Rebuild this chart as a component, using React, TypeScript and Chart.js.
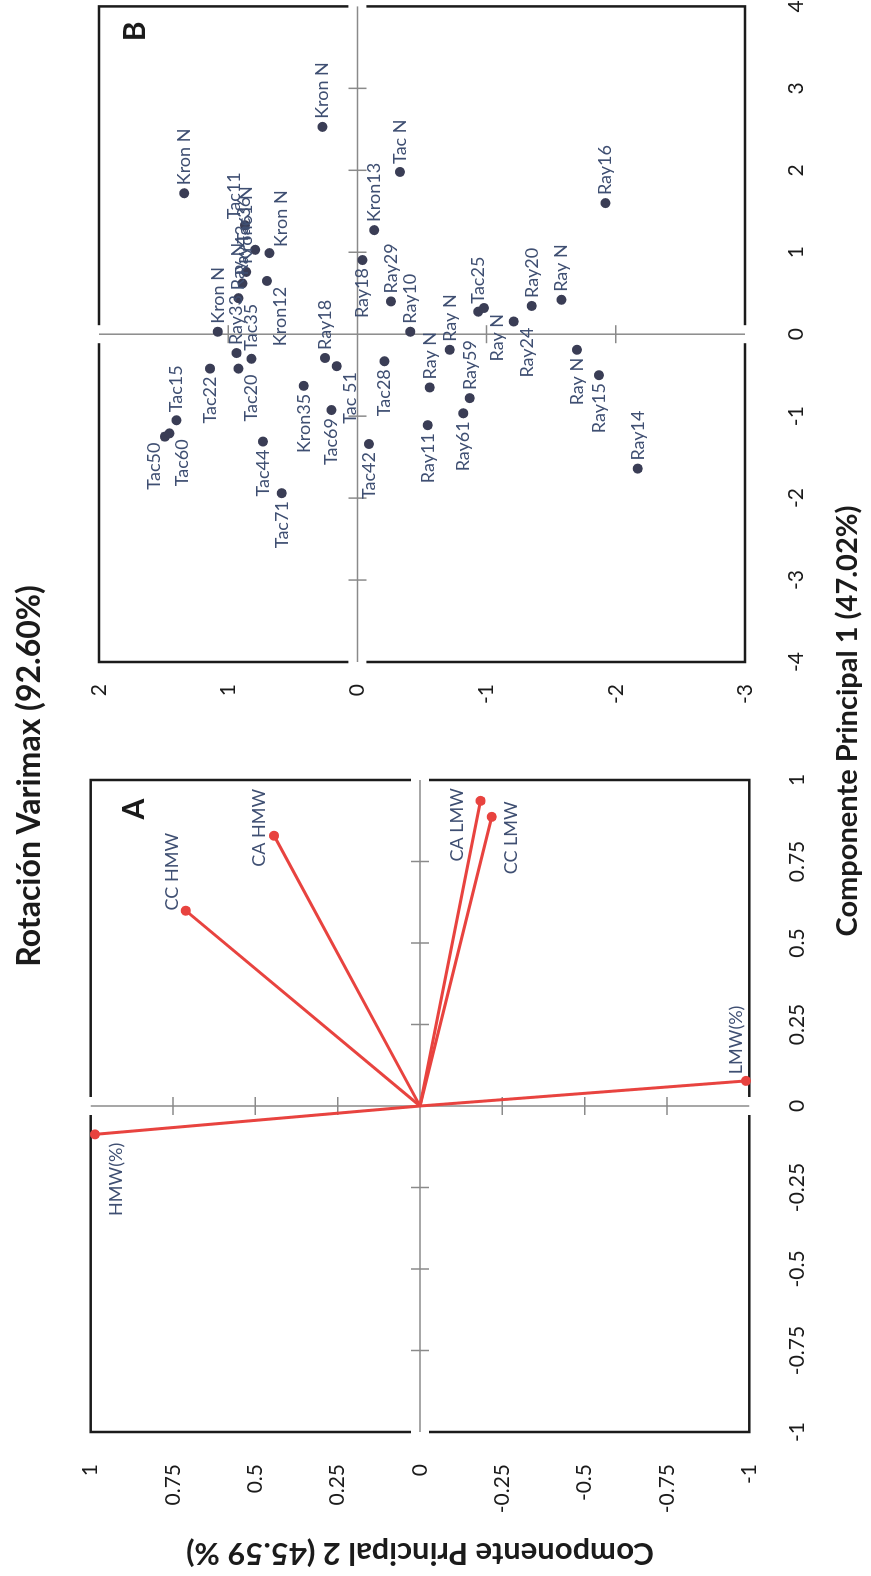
import React, { useEffect, useRef } from 'react';
import { Chart, registerables } from 'chart.js';

Chart.register(...registerables);

const FONT = 'Lato, "Open Sans", "DejaVu Sans", sans-serif';
const RED = '#e8433f';
const DOT = '#3a3d55';
const LABEL = '#3f4f72';
const INK = '#1b1b1b';
const AXIS_GREY = '#8a8a8a';

// ---------- Panel A: loadings (vectors) ----------
const loadingNames = ['HMW(%)', 'CC HMW', 'CA HMW', 'CA LMW', 'CC LMW', 'LMW(%)'];
const loadingPC1 = [-0.087, 0.599, 0.829, 0.936, 0.887, 0.077];
const loadingPC2 = [0.987, 0.711, 0.443, -0.184, -0.218, -0.99];
const loadingLabelDx = [-45, 39, 8, -24, -21, 41];
const loadingLabelDy = [21, -14, -15, -23, 19, -10];
const loadingTickValues = [-1, -0.75, -0.5, -0.25, 0, 0.25, 0.5, 0.75, 1];
const loadingTickLabels = ['-1', '-0.75', '-0.5', '-0.25', '0', '0.25', '0.5', '0.75', '1'];

// ---------- Panel B: scores ----------
const sampleNames = [
  'Kron N', 'Kron N', 'Tac N', 'Kron13', 'Tac11', 'Tac36', 'Kron N', 'Kron61 N', 'Ray43', 'Ray N',
  'Kron12', 'Kron N', 'Ray33', 'Tac35', 'Tac20', 'Tac22', 'Tac15', 'Tac50', 'Tac60', 'Tac44',
  'Tac71', 'Kron35', 'Ray18', 'Tac 51', 'Tac69', 'Tac42', 'Tac28', 'Ray18', 'Ray29', 'Ray10',
  'Ray11', 'Ray N', 'Ray N', 'Ray61', 'Ray59', 'Tac25', 'Ray N', 'Ray24', 'Ray20', 'Ray N',
  'Ray16', 'Ray N', 'Ray15', 'Ray14',
];
const scorePC1 = [
  1.72, 2.53, 1.98, 1.27, 1.33, 1.03, 0.99, 0.76, 0.62, 0.44,
  0.65, 0.03, -0.23, -0.30, -0.42, -0.42, -1.05, -1.25, -1.21, -1.31,
  -1.94, -0.63, -0.29, -0.39, -0.925, -1.34, -0.33, 0.905, 0.40, 0.03,
  -1.11, -0.65, -0.19, -0.965, -0.78, 0.275, 0.32, 0.155, 0.345, 0.42,
  1.60, -0.19, -0.50, -1.64,
];
const scorePC2 = [
  1.34, 0.27, -0.33, -0.13, 0.87, 0.79, 0.68, 0.86, 0.89, 0.92,
  0.70, 1.08, 0.935, 0.82, 0.92, 1.14, 1.40, 1.49, 1.455, 0.73,
  0.585, 0.415, 0.25, 0.16, 0.20, -0.09, -0.21, -0.04, -0.26, -0.41,
  -0.545, -0.56, -0.715, -0.82, -0.87, -0.935, -0.98, -1.21, -1.35, -1.58,
  -1.92, -1.70, -1.87, -2.17,
];
const sampleLabelSide = [
  'r', 'r', 'r', 'r', 'ar', 'ar', 'br', 'r', 'r', 'r',
  'bl', 'r', 'r', 'r', 'bl', 'l', 'r', 'al', 'bl', 'l',
  'l', 'l', 'r', 'bl', 'l', 'l', 'l', 'l', 'r', 'r',
  'l', 'r', 'r', 'l', 'r', 'r', 'bl', 'bl', 'r', 'r',
  'r', 'l', 'l', 'r',
];
const scoreXTickValues = [-4, -3, -2, -1, 0, 1, 2, 3, 4];
const scoreXTickLabels = ['-4', '-3', '-2', '-1', '0', '1', '2', '3', '4'];
const scoreYTickValues = [-3, -2, -1, 0, 1, 2];
const scoreYTickLabels = ['-3', '-2', '-1', '0', '1', '2'];

const SIDE_OFFSETS: Record<string, [number, number, CanvasTextAlign]> = {
  r: [8, 0, 'left'],
  l: [-8, 0, 'right'],
  ar: [6, -11, 'left'],
  al: [-6, -11, 'right'],
  br: [6, 12, 'left'],
  bl: [-6, 13, 'right'],
};

const frameAxesPlugin = {
  id: 'frameAxes',
  beforeDatasetsDraw(chart: any, _args: any, opts: any) {
    const { ctx, chartArea: ca } = chart;
    const xs = chart.scales.x;
    const ys = chart.scales.y;
    const x0 = xs.getPixelForValue(0);
    const y0 = ys.getPixelForValue(0);
    ctx.save();
    // frame
    ctx.strokeStyle = INK;
    ctx.lineWidth = 2.5;
    ctx.strokeRect(ca.left, ca.top, ca.right - ca.left, ca.bottom - ca.top);
    // small gaps in the frame where the zero axes meet it
    ctx.fillStyle = '#ffffff';
    const g = 9;
    ctx.fillRect(x0 - g, ca.top - 3, 2 * g, 6);
    ctx.fillRect(x0 - g, ca.bottom - 3, 2 * g, 6);
    ctx.fillRect(ca.left - 3, y0 - g, 6, 2 * g);
    ctx.fillRect(ca.right - 3, y0 - g, 6, 2 * g);
    // zero axes with cross ticks
    ctx.strokeStyle = AXIS_GREY;
    ctx.lineWidth = 1.5;
    ctx.beginPath();
    ctx.moveTo(x0, ca.top);
    ctx.lineTo(x0, ca.bottom);
    ctx.moveTo(ca.left, y0);
    ctx.lineTo(ca.right, y0);
    xs.ticks.forEach((t: any) => {
      if (t.value === 0 || t.value === xs.min || t.value === xs.max) return;
      const px = xs.getPixelForValue(t.value);
      ctx.moveTo(px, y0 - 9);
      ctx.lineTo(px, y0 + 9);
    });
    ys.ticks.forEach((t: any) => {
      if (t.value === 0 || t.value === ys.min || t.value === ys.max) return;
      const py = ys.getPixelForValue(t.value);
      ctx.moveTo(x0 - 9, py);
      ctx.lineTo(x0 + 9, py);
    });
    ctx.stroke();
    // panel letter
    ctx.fillStyle = INK;
    ctx.font = `bold 30px ${FONT}`;
    ctx.textAlign = 'center';
    ctx.textBaseline = 'middle';
    ctx.fillText(opts.letter, ca.right + opts.dx, ca.top + opts.dy);
    ctx.restore();
  },
};

const pointLabelPlugin = {
  id: 'pointLabels',
  afterDatasetsDraw(chart: any) {
    const { ctx } = chart;
    ctx.save();
    ctx.font = `18px ${FONT}`;
    ctx.fillStyle = LABEL;
    ctx.textBaseline = 'middle';
    chart.data.datasets.forEach((ds: any, di: number) => {
      if (!ds.pointLabels) return;
      const meta = chart.getDatasetMeta(di);
      meta.data.forEach((el: any, i: number) => {
        const text = ds.pointLabels[i];
        if (!text) return;
        const [dx, dy, align] = ds.pointLabelOffsets[i];
        ctx.textAlign = align;
        ctx.fillText(text, el.x + dx, el.y + dy);
      });
    });
    ctx.restore();
  },
};

const tickFont = { family: FONT, size: 21 };

function fixX(h: number) {
  return (s: any) => {
    s.height = h;
    s.paddingLeft = 0;
    s.paddingRight = 0;
  };
}
function fixY(w: number) {
  return (s: any) => {
    s.width = w;
    s.paddingTop = 0;
    s.paddingBottom = 0;
  };
}

function buildA(): any {
  const datasets = loadingNames.map((name, i) => ({
    data: [
      { x: 0, y: 0 },
      { x: loadingPC1[i], y: loadingPC2[i] },
    ],
    showLine: true,
    borderColor: RED,
    borderWidth: 3,
    pointRadius: [0, 5],
    pointBackgroundColor: RED,
    pointBorderWidth: 0,
    clip: false,
    pointLabels: ['', name],
    pointLabelOffsets: [null, [loadingLabelDx[i], loadingLabelDy[i], 'center']],
  }));
  return {
    type: 'scatter',
    data: { datasets },
    plugins: [frameAxesPlugin, pointLabelPlugin],
    options: {
      animation: false,
      responsive: false,
      maintainAspectRatio: false,
      events: [],
      layout: { padding: { left: 0, right: 34, top: 90.7, bottom: 0 } },
      plugins: {
        legend: { display: false },
        tooltip: { enabled: false },
        frameAxes: { letter: 'A', dx: -29, dy: 44 },
      },
      scales: {
        x: {
          type: 'linear',
          min: -1,
          max: 1,
          afterBuildTicks: (s: any) => { s.ticks = loadingTickValues.map((v) => ({ value: v })); },
          afterFit: fixX(121.7),
          ticks: {
            font: tickFont,
            color: INK,
            padding: 35,
            maxRotation: 0,
            autoSkip: false,
            callback: (_v: any, i: number) => loadingTickLabels[i],
          },
          grid: { display: false, drawTicks: false },
          border: { display: false },
        },
        y: {
          type: 'linear',
          min: -1,
          max: 1,
          afterBuildTicks: (s: any) => { s.ticks = loadingTickValues.map((v) => ({ value: v })); },
          afterFit: fixY(144),
          ticks: {
            font: tickFont,
            color: INK,
            padding: 32,
            autoSkip: false,
            callback: (_v: any, i: number) => loadingTickLabels[i],
          },
          grid: { display: false, drawTicks: false },
          border: { display: false },
          title: {
            display: true,
            text: 'Componente Principal 2 (45.59 %)',
            font: { family: FONT, size: 31, weight: 'bold' },
            color: INK,
            padding: { top: 4, bottom: 0 },
          },
        },
      },
    },
  };
}

function buildB(): any {
  return {
    type: 'scatter',
    data: {
      datasets: [
        {
          data: scorePC1.map((x, i) => ({ x, y: scorePC2[i] })),
          pointRadius: 5,
          pointBackgroundColor: DOT,
          pointBorderWidth: 0,
          clip: false,
          pointLabels: sampleNames,
          pointLabelOffsets: sampleLabelSide.map((s) => SIDE_OFFSETS[s]),
        },
      ],
    },
    plugins: [frameAxesPlugin, pointLabelPlugin],
    options: {
      animation: false,
      responsive: false,
      maintainAspectRatio: false,
      events: [],
      layout: { padding: { left: 0, right: 6.4, top: 99, bottom: 0 } },
      plugins: {
        legend: { display: false },
        tooltip: { enabled: false },
        frameAxes: { letter: 'B', dx: -25, dy: 36 },
      },
      scales: {
        x: {
          type: 'linear',
          min: -4,
          max: 4,
          afterBuildTicks: (s: any) => { s.ticks = scoreXTickValues.map((v) => ({ value: v })); },
          afterFit: fixX(126),
          ticks: {
            font: tickFont,
            color: INK,
            padding: 39,
            maxRotation: 0,
            autoSkip: false,
            callback: (_v: any, i: number) => scoreXTickLabels[i],
          },
          grid: { display: false, drawTicks: false },
          border: { display: false },
        },
        y: {
          type: 'linear',
          min: -3,
          max: 2,
          afterBuildTicks: (s: any) => { s.ticks = scoreYTickValues.map((v) => ({ value: v })); },
          afterFit: fixY(84),
          ticks: {
            font: tickFont,
            color: INK,
            padding: 22,
            autoSkip: false,
            callback: (_v: any, i: number) => scoreYTickLabels[i],
          },
          grid: { display: false, drawTicks: false },
          border: { display: false },
        },
      },
    },
  };
}

function ChartCanvas({ build, left, width }: { build: () => any; left: number; width: number }) {
  const ref = useRef<HTMLCanvasElement | null>(null);
  useEffect(() => {
    if (!ref.current) return;
    const chart = new Chart(ref.current, build());
    return () => chart.destroy();
  }, [build]);
  return (
    <canvas
      ref={ref}
      width={width}
      height={871}
      style={{ position: 'absolute', left, top: 0, width, height: 871 }}
    />
  );
}

export default function App() {
  return (
    <div
      style={{
        position: 'fixed',
        left: 0,
        top: 0,
        width: 871,
        height: 1576,
        overflow: 'hidden',
        background: '#ffffff',
      }}
    >
      <div
        style={{
          position: 'absolute',
          left: 0,
          top: 0,
          width: 1576,
          height: 871,
          transformOrigin: '0 0',
          transform: 'translate(0px, 1576px) rotate(-90deg)',
          background: '#ffffff',
        }}
      >
        <ChartCanvas build={buildA} left={0} width={830} />
        <ChartCanvas build={buildB} left={830} width={746} />
        <div
          style={{
            position: 'absolute',
            left: 500,
            width: 600,
            top: 8,
            lineHeight: '38px',
            textAlign: 'center',
            font: `bold 32px ${FONT}`,
            color: INK,
            whiteSpace: 'nowrap',
          }}
        >
          Rotación Varimax (92.60%)
        </div>
        <div
          style={{
            position: 'absolute',
            left: 555,
            width: 600,
            top: 828,
            lineHeight: '36px',
            textAlign: 'center',
            font: `bold 29px ${FONT}`,
            color: INK,
            whiteSpace: 'nowrap',
          }}
        >
          Componente Principal 1 (47.02%)
        </div>
      </div>
    </div>
  );
}
